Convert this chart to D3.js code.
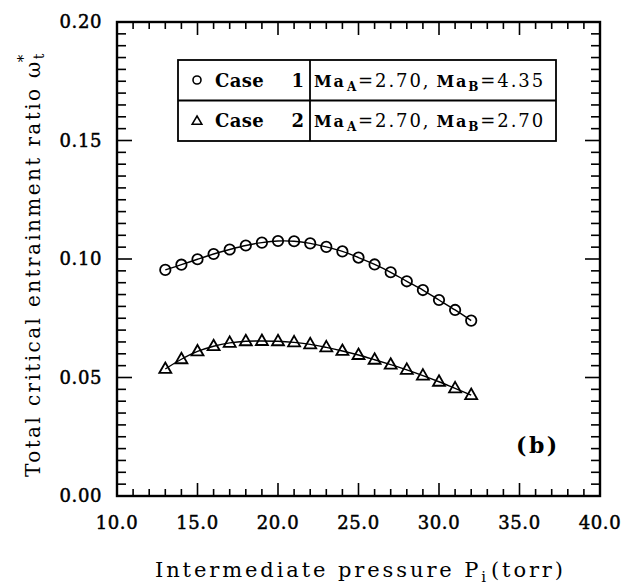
<!DOCTYPE html>
<html>
<head>
<meta charset="utf-8">
<script src="https://cdn.jsdelivr.net/npm/d3@7"></script>
<style>
  body { margin: 0; background: #fff; }
  svg { display: block; }
</style>
</head>
<body>
<div id="chart"></div>
<script>
// pressure values (torr)
const pressures = [13, 14, 15, 16, 17, 18, 19, 20, 21, 22, 23, 24, 25, 26, 27, 28, 29, 30, 31, 32];
// Case 1: MaA=2.70, MaB=4.35
const case1 = [0.0954, 0.0976, 0.0999, 0.1021, 0.1040, 0.1057, 0.1069, 0.1076, 0.1075, 0.1066, 0.1051, 0.1032, 0.1006, 0.0977, 0.0944, 0.0906, 0.0869, 0.0827, 0.0785, 0.0740];
// Case 2: MaA=2.70, MaB=2.70
const case2 = [0.0536, 0.0577, 0.0610, 0.0632, 0.0646, 0.0653, 0.0654, 0.0653, 0.0648, 0.0640, 0.0627, 0.0612, 0.0595, 0.0575, 0.0554, 0.0532, 0.0508, 0.0482, 0.0454, 0.0426];

const xTicks = [10, 15, 20, 25, 30, 35, 40];
const yTicks = [0, 0.05, 0.10, 0.15, 0.20];

(function main() {
  const width = 626, height = 585;
  const mLeft = 117, mRight = 600, mTop = 22, mBottom = 496;

  const svg = d3.select("#chart").append("svg")
    .attr("width", width).attr("height", height);

  const x = d3.scaleLinear().domain([10, 40]).range([mLeft, mRight]);
  const y = d3.scaleLinear().domain([0, 0.2]).range([mBottom, mTop]);

  const font = "'DejaVu Serif', serif";

  const xs = d3.range(10, 41, 1);
  const ys = d3.range(0, 41, 1).map(d => d * 0.005);

  // bottom & top ticks (inward)
  svg.append("g").selectAll("line").data(xs).join("line")
    .attr("x1", d => x(d)).attr("x2", d => x(d))
    .attr("y1", mBottom).attr("y2", d => mBottom - (d % 5 === 0 ? 13 : 7))
    .attr("stroke", "#000").attr("stroke-width", 1.6);
  svg.append("g").selectAll("line").data(xs).join("line")
    .attr("x1", d => x(d)).attr("x2", d => x(d))
    .attr("y1", mTop).attr("y2", d => mTop + (d % 5 === 0 ? 13 : 7))
    .attr("stroke", "#000").attr("stroke-width", 1.6);

  // left & right ticks (inward)
  svg.append("g").selectAll("line").data(ys).join("line")
    .attr("y1", d => y(d)).attr("y2", d => y(d))
    .attr("x1", mLeft).attr("x2", (d, i) => mLeft + (i % 10 === 0 ? 15 : 9))
    .attr("stroke", "#000").attr("stroke-width", 1.6);
  svg.append("g").selectAll("line").data(ys).join("line")
    .attr("y1", d => y(d)).attr("y2", d => y(d))
    .attr("x1", mRight).attr("x2", (d, i) => mRight - (i % 10 === 0 ? 15 : 9))
    .attr("stroke", "#000").attr("stroke-width", 1.6);

  // frame
  svg.append("rect")
    .attr("x", mLeft).attr("y", mTop)
    .attr("width", mRight - mLeft).attr("height", mBottom - mTop)
    .attr("fill", "none").attr("stroke", "#000").attr("stroke-width", 2.4);

  // tick labels
  svg.append("g").selectAll("text").data(xTicks).join("text")
    .attr("x", d => x(d)).attr("y", 529)
    .attr("text-anchor", "middle")
    .attr("font-family", font).attr("font-size", 18).attr("letter-spacing", 0.6)
    .attr("stroke", "#000").attr("stroke-width", 0.5)
    .text(d => d3.format(".1f")(d));

  svg.append("g").selectAll("text").data(yTicks).join("text")
    .attr("x", 102).attr("y", d => y(d) + 6)
    .attr("text-anchor", "end")
    .attr("font-family", font).attr("font-size", 18).attr("letter-spacing", 0.6)
    .attr("stroke", "#000").attr("stroke-width", 0.5)
    .text(d => d3.format(".2f")(d));

  // axis titles
  const xt = svg.append("text")
    .attr("x", 155).attr("y", 577)
    .attr("font-family", font).attr("font-size", 21)
    .attr("letter-spacing", 2.9);
  xt.append("tspan").text("Intermediate pressure P");
  xt.append("tspan").attr("font-size", 15).attr("dy", 5).text("i");
  xt.append("tspan").attr("dy", -5).attr("dx", 2).text("(torr)");

  const yt = svg.append("text")
    .attr("transform", "translate(40,477) rotate(-90)")
    .attr("font-family", font).attr("font-size", 20)
    .attr("letter-spacing", 2.4);
  yt.append("tspan").text("Total critical entrainment ratio ω");
  yt.append("tspan").attr("font-size", 14).attr("dy", 4).text("t");
  yt.append("tspan").attr("font-size", 15).attr("dx", -11).attr("dy", -16).text("*");

  // curves
  const line = d3.line()
    .x(d => x(d[0])).y(d => y(d[1]))
    .curve(d3.curveCatmullRom);

  const series = [
    { name: "Case 1", values: case1, marker: "circle" },
    { name: "Case 2", values: case2, marker: "triangle" },
  ];

  const triPath = "M0,-6.5L6,4L-6,4Z";

  series.forEach(s => {
    const pts = pressures.map((p, i) => [p, s.values[i]]);
    svg.append("path").datum(pts)
      .attr("d", line)
      .attr("fill", "none").attr("stroke", "#000").attr("stroke-width", 1.4);
    if (s.marker === "circle") {
      svg.append("g").selectAll("circle").data(pts).join("circle")
        .attr("cx", d => x(d[0])).attr("cy", d => y(d[1])).attr("r", 5.2)
        .attr("fill", "none").attr("stroke", "#000").attr("stroke-width", 1.8);
    } else {
      svg.append("g").selectAll("path").data(pts).join("path")
        .attr("transform", d => `translate(${x(d[0])},${y(d[1])})`)
        .attr("d", triPath)
        .attr("fill", "none").attr("stroke", "#000").attr("stroke-width", 1.8);
    }
  });

  // legend table
  const lg = svg.append("g");
  lg.append("rect").attr("x", 178).attr("y", 60).attr("width", 378).attr("height", 81)
    .attr("fill", "#fff").attr("stroke", "#000").attr("stroke-width", 1.8);
  lg.append("line").attr("x1", 178).attr("x2", 556).attr("y1", 100.5).attr("y2", 100.5)
    .attr("stroke", "#000").attr("stroke-width", 1.8);
  lg.append("line").attr("x1", 310).attr("x2", 310).attr("y1", 60).attr("y2", 141)
    .attr("stroke", "#000").attr("stroke-width", 1.8);

  const legendRows = [
    { label: "Case", num: "1", maB: "4.35", marker: "circle" },
    { label: "Case", num: "2", maB: "2.70", marker: "triangle" },
  ];
  legendRows.forEach((r, i) => {
    const cy = 80 + i * 40;
    if (r.marker === "circle") {
      lg.append("circle").attr("cx", 197).attr("cy", cy).attr("r", 4)
        .attr("fill", "none").attr("stroke", "#000").attr("stroke-width", 1.6);
    } else {
      lg.append("path").attr("transform", `translate(197,${cy + 1})`)
        .attr("d", "M0,-5L4.8,3.2L-4.8,3.2Z")
        .attr("fill", "none").attr("stroke", "#000").attr("stroke-width", 1.6);
    }
    lg.append("text").attr("x", 215).attr("y", cy + 7)
      .attr("font-family", font).attr("font-size", 18).attr("font-weight", "bold")
      .attr("letter-spacing", 0.4)
      .text(r.label);
    lg.append("text").attr("x", 304).attr("y", cy + 7)
      .attr("text-anchor", "end")
      .attr("font-family", font).attr("font-size", 18).attr("font-weight", "bold")
      .text(r.num);
    const t = lg.append("text").attr("x", 314).attr("y", cy + 7)
      .attr("font-family", font).attr("font-size", 18).attr("letter-spacing", 1.9);
    t.append("tspan").attr("font-weight", "bold").attr("font-size", 16).text("Ma");
    t.append("tspan").attr("font-weight", "bold").attr("font-size", 12).attr("dx", 1).attr("dy", 4).text("A");
    t.append("tspan").attr("dy", -4).text("=2.70,");
    t.append("tspan").attr("font-weight", "bold").attr("font-size", 16).attr("dx", 6).text("Ma");
    t.append("tspan").attr("font-weight", "bold").attr("font-size", 12).attr("dy", 4).text("B");
    t.append("tspan").attr("dy", -4).text("=" + r.maB);
  });

  // panel label
  svg.append("text").attr("x", 516).attr("y", 453)
    .attr("font-family", font).attr("font-size", 22).attr("font-weight", "bold")
    .attr("letter-spacing", 2.5)
    .text("(b)");
})();
</script>
</body>
</html>
